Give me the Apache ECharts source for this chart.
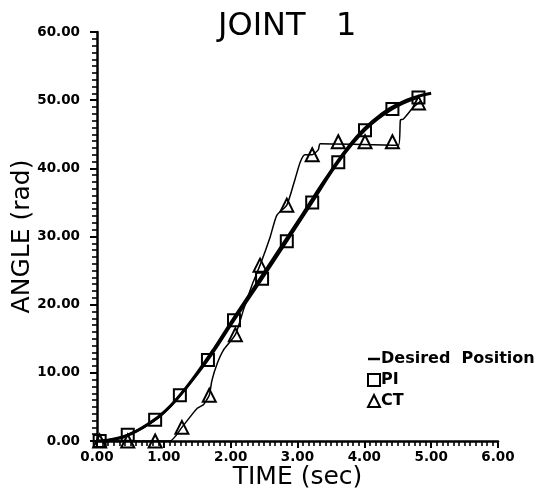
<!DOCTYPE html>
<html>
<head>
<meta charset="utf-8">
<script src="https://cdn.jsdelivr.net/npm/echarts@6/dist/echarts.min.js"></script>
<style>html,body{margin:0;padding:0;background:#fff;}#c{width:537px;height:489px;}</style>
</head>
<body>
<div id="c"></div>
<script>
// ---- data ----
var xTicks = [0, 1, 2, 3, 4, 5, 6];
var yTicks = [0, 10, 20, 30, 40, 50, 60];

var desiredTime  = [0, 0.25, 0.5, 0.75, 1.0, 1.25, 1.5, 1.75, 2.0, 2.25, 2.5, 2.75, 3.0, 3.25, 3.5, 3.75, 4.0, 4.25, 4.5, 4.75, 5.0];
var desiredAngle = [0, 0.2, 1.0, 2.4, 4.2, 6.8, 10.0, 13.5, 17.3, 21.0, 24.7, 28.4, 32.1, 35.9, 39.6, 43.0, 45.8, 47.9, 49.4, 50.4, 51.0];

var piTime  = [0.04, 0.46, 0.87, 1.24, 1.66, 2.05, 2.47, 2.84, 3.22, 3.61, 4.01, 4.42, 4.81];
var piAngle = [0.0, 0.9, 3.1, 6.7, 11.9, 17.7, 23.8, 29.3, 35.0, 40.9, 45.6, 48.7, 50.4];

var ctPathTime  = [0, 1.09, 1.27, 1.39, 1.50, 1.59, 1.62, 1.68, 1.72, 1.80, 1.89, 2.07, 2.19, 2.32, 2.44, 2.59, 2.69, 2.84, 2.96, 3.04, 3.11, 3.22, 3.31, 3.34, 4.51, 4.54, 4.58, 4.72, 4.81, 4.85];
var ctPathAngle = [0, 0, 2.0, 3.5, 4.8, 5.3, 5.7, 6.7, 8.9, 11.4, 13.3, 15.6, 19.2, 22.9, 25.8, 29.9, 33.1, 34.6, 38.3, 40.9, 42.0, 42.0, 42.7, 43.6, 43.4, 47.1, 47.2, 48.8, 49.6, 49.9];

var ctTime  = [0.04, 0.46, 0.87, 1.27, 1.68, 2.07, 2.44, 2.84, 3.22, 3.61, 4.01, 4.42, 4.81];
var ctAngle = [0.0, 0.0, 0.0, 2.0, 6.7, 15.6, 25.8, 34.6, 42.0, 43.9, 43.9, 43.9, 49.6];

function zip(a, b) { return a.map(function (v, i) { return [v, b[i]]; }); }

var FONT = 'DejaVu Sans';
var chart = echarts.init(document.getElementById('c'), null, {renderer: 'canvas'});

function axisCommon(minorSplit, margin) {
  return {
    type: 'value',
    axisLine: {show: true, onZero: false, lineStyle: {color: '#000', width: 2.5}},
    axisTick: {show: true, inside: false, length: 7, lineStyle: {color: '#000', width: 2}},
    minorTick: {show: true, splitNumber: minorSplit, length: 5, lineStyle: {color: '#000', width: 1.6}},
    splitLine: {show: false},
    axisLabel: {
      color: '#000', fontFamily: FONT, fontWeight: 'bold', fontSize: 13.5, margin: margin,
      formatter: function (v) { return v.toFixed(2); }
    },
    nameMoveOverlap: false,
    nameTextStyle: {color: '#000', fontFamily: FONT, fontSize: 25}
  };
}

var xAxis = axisCommon(12, 9);
xAxis.min = xTicks[0]; xAxis.max = xTicks[xTicks.length - 1]; xAxis.interval = xTicks[1] - xTicks[0];
xAxis.name = 'TIME (sec)'; xAxis.nameLocation = 'middle'; xAxis.nameGap = 24;

var yAxis = axisCommon(10, 17);
yAxis.min = yTicks[0]; yAxis.max = yTicks[yTicks.length - 1]; yAxis.interval = yTicks[1] - yTicks[0];
yAxis.name = 'ANGLE (rad)'; yAxis.nameLocation = 'middle'; yAxis.nameGap = 62; yAxis.nameRotate = 90;

chart.setOption({
  animation: false,
  backgroundColor: '#fff',
  title: {
    text: 'JOINT   1', left: 213, top: 6,
    textStyle: {color: '#000', fontFamily: FONT, fontWeight: 'normal', fontSize: 32}
  },
  grid: {left: 97, right: 39, top: 32, bottom: 48, containLabel: false, outerBoundsMode: 'none'},
  xAxis: xAxis,
  yAxis: yAxis,
  legend: {
    orient: 'vertical', left: 362, top: 346, itemGap: 5, itemWidth: 12, itemHeight: 12,
    textStyle: {color: '#000', fontFamily: FONT, fontWeight: 'bold', fontSize: 16, padding: [0, 0, 0, -4]},
    data: [
      {name: 'Desired Position', icon: 'path://M0,0H12V2.5H0Z', itemStyle: {color: '#000', borderWidth: 0}},
      {name: 'PI', icon: 'rect'},
      {name: 'CT', icon: 'triangle'}
    ],
    formatter: function (n) { return n === 'Desired Position' ? 'Desired  Position' : n; }
  },
  series: [
    {
      name: 'Desired Position', type: 'line', smooth: true, symbol: 'none',
      data: zip(desiredTime, desiredAngle),
      lineStyle: {color: '#000', width: 3}, itemStyle: {color: '#000'}, z: 3
    },
    {
      name: 'PI', type: 'line', smooth: 0.4, symbol: 'rect', symbolSize: 12, showAllSymbol: true,
      data: zip(piTime, piAngle),
      lineStyle: {color: '#000', width: 2.5},
      itemStyle: {color: 'rgba(0,0,0,0)', borderColor: '#000', borderWidth: 2, opacity: 1}, z: 4
    },
    {
      name: 'CT path', type: 'line', symbol: 'none', smooth: 0.2,
      data: zip(ctPathTime, ctPathAngle),
      lineStyle: {color: '#000', width: 1.5}, z: 2
    },
    {
      name: 'CT', type: 'scatter', symbol: 'triangle', symbolSize: 13,
      data: zip(ctTime, ctAngle),
      itemStyle: {color: 'rgba(0,0,0,0)', borderColor: '#000', borderWidth: 2, opacity: 1}, z: 5
    }
  ]
});
</script>
</body>
</html>
